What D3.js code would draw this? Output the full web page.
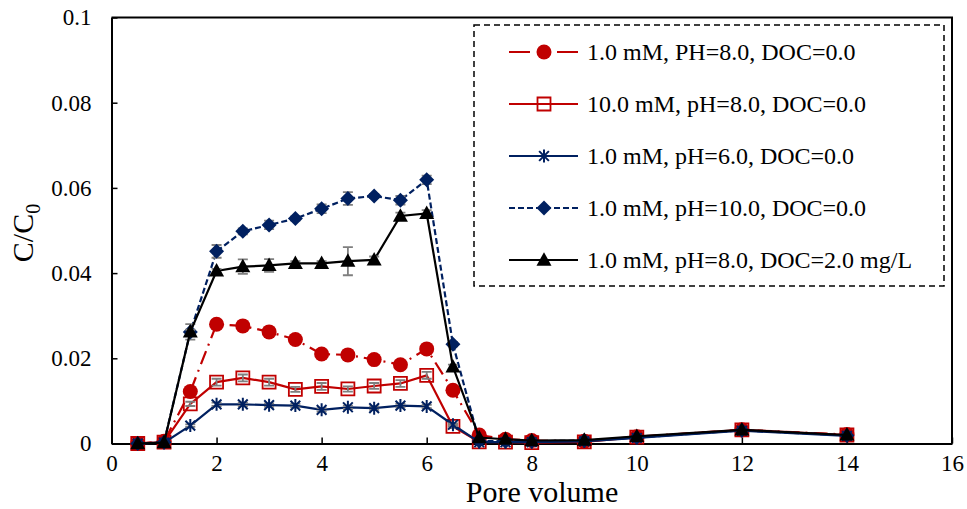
<!DOCTYPE html>
<html>
<head>
<meta charset="utf-8">
<script src="https://cdn.jsdelivr.net/npm/d3@7"></script>
<style>
body { margin: 0; background: #fff; }
</style>
</head>
<body>
<svg id="chart" width="967" height="509"></svg>
<script>
// pore volumes sampled
const poreVol = [0.5, 1, 1.5, 2, 2.5, 3, 3.5, 4, 4.5, 5, 5.5, 6, 6.5, 7, 7.5, 8, 9, 10, 12, 14];

// C/C0 for each run
const ph8 = [0, 0.0005, 0.0122, 0.0280, 0.0276, 0.0262, 0.0244, 0.0210, 0.0208, 0.0197, 0.0185, 0.0222, 0.0125, 0.0020, 0.0010, 0.0007, 0.0005, 0.0016, 0.0032, 0.0021];
const is10 = [0, 0.0003, 0.0093, 0.0144, 0.0154, 0.0144, 0.0127, 0.0134, 0.0128, 0.0135, 0.0141, 0.0160, 0.0040, 0.0004, 0.0003, 0.0002, 0.0004, 0.0015, 0.0032, 0.0020];
const ph6 = [0, 0.0002, 0.0042, 0.0092, 0.0092, 0.0090, 0.0089, 0.0079, 0.0085, 0.0083, 0.0089, 0.0087, 0.0044, 0.0003, 0.0003, 0.0003, 0.0005, 0.0013, 0.0030, 0.0018];
const ph10 = [0, 0.0003, 0.0262, 0.0451, 0.0498, 0.0513, 0.0528, 0.0551, 0.0575, 0.0581, 0.0571, 0.0619, 0.0233, 0.0006, 0.0005, 0.0005, 0.0007, 0.0014, 0.0031, 0.0019];
const doc2 = [0, 0.0002, 0.0262, 0.0405, 0.0415, 0.0418, 0.0423, 0.0423, 0.0428, 0.0431, 0.0534, 0.0540, 0.0180, 0.0014, 0.0010, 0.0007, 0.0008, 0.0017, 0.0032, 0.0020];

// error bars (+/-)
const ph8Err = [0, 0, 0.0005, 0.0005, 0.0005, 0.0005, 0.0005, 0.0005, 0.0005, 0.0005, 0.0005, 0.0005, 0.0005, 0, 0, 0, 0, 0, 0, 0];
const is10Err = [0, 0, 0.0005, 0.0008, 0.0008, 0.0008, 0.0006, 0.0008, 0.0006, 0.0007, 0.0008, 0.0008, 0.0004, 0, 0, 0, 0, 0, 0, 0];
const ph6Err = [0, 0, 0.0003, 0.0004, 0.0004, 0.0004, 0.0004, 0.0004, 0.0004, 0.0004, 0.0004, 0.0004, 0.0003, 0, 0, 0, 0, 0, 0, 0];
const ph10Err = [0, 0, 0.0018, 0.0015, 0.0007, 0.0010, 0.0005, 0.0010, 0.0015, 0.0005, 0.0010, 0.0010, 0.0005, 0, 0, 0, 0, 0, 0, 0];
const doc2Err = [0, 0, 0.0005, 0.0005, 0.0017, 0.0015, 0.0005, 0.0005, 0.0033, 0.0008, 0.0008, 0.0008, 0.0005, 0, 0, 0, 0, 0, 0, 0];

const labels = ["1.0 mM, PH=8.0, DOC=0.0", "10.0 mM, pH=8.0, DOC=0.0", "1.0 mM, pH=6.0, DOC=0.0", "1.0 mM, pH=10.0, DOC=0.0", "1.0 mM, pH=8.0, DOC=2.0 mg/L"];
const xTicks = [0, 2, 4, 6, 8, 10, 12, 14, 16];
const yTicks = [0, 0.02, 0.04, 0.06, 0.08, 0.1];

const red = "#C00000", navy = "#002060";
const serif = "Liberation Serif";

let series = [
  {vals: ph8, err: ph8Err, color: red, dash: "14,6,2,6", legDash: "21,27", mark: "circle"},
  {vals: is10, err: is10Err, color: red, dash: null, mark: "square"},
  {vals: ph6, err: ph6Err, color: navy, dash: null, mark: "star"},
  {vals: ph10, err: ph10Err, color: navy, dash: "6,3", mark: "diamond"},
  {vals: doc2, err: doc2Err, color: "#000", dash: null, mark: "triangle"}
];

const svg = d3.select("#chart").attr("font-family", serif);
const x = d3.scaleLinear().domain([0, 16]).range([111.5, 952]);
const y = d3.scaleLinear().domain([0, 0.1]).range([443.5, 17.5]);

// frame (top/right)
svg.append("path")
  .attr("d", `M${x(0)},${y(0.1)}H${x(16)}V${y(0)}`)
  .attr("fill", "none").attr("stroke", "#000").attr("stroke-width", 2);

let xAxis = svg.append("g").attr("transform", `translate(0,${y(0)})`)
  .call(d3.axisBottom(x).tickValues(xTicks).tickSize(-6).tickPadding(11).tickSizeOuter(0));
let yAxis = svg.append("g").attr("transform", `translate(${x(0)},0)`)
  .call(d3.axisLeft(y).tickValues(yTicks).tickSize(-6).tickPadding(20).tickSizeOuter(0)
    .tickFormat(d => d === 0 ? "0" : String(+d.toFixed(2))));

[xAxis, yAxis].forEach(function (a) {
  a.attr("font-family", serif).attr("font-size", 23);
  a.select(".domain").attr("stroke", "#000").attr("stroke-width", 2);
  a.selectAll(".tick line").attr("stroke", "#000").attr("stroke-width", 1.5);
  a.selectAll("text").attr("fill", "#000");
});
xAxis.selectAll("text").attr("dy", "0.71em");

svg.append("text").attr("x", 542).attr("y", 502).attr("text-anchor", "middle")
  .attr("font-size", 30).text("Pore volume");

let yt = svg.append("text").attr("transform", "translate(33,233) rotate(-90)")
  .attr("text-anchor", "middle").attr("font-size", 30);
yt.append("tspan").text("C/C");
yt.append("tspan").attr("font-size", 20).attr("dy", 7).text("0");

function markerPath(kind, s) {
  let h = s / 2;
  if (kind === "circle") return d3.symbol(d3.symbolCircle, Math.PI * h * h)();
  if (kind === "square") return `M${-h},${-h}H${h}V${h}H${-h}Z`;
  if (kind === "diamond") return `M0,${-h}L${h},0L0,${h}L${-h},0Z`;
  if (kind === "triangle") return `M0,${-h * 1.05}L${h},${h * 0.75}L${-h},${h * 0.75}Z`;
  let d = h * 0.75;
  return `M0,${-h}V${h}M${-d},${-d}L${d},${d}M${-d},${d}L${d},${-d}`;
}

function styleMarker(sel, s) {
  if (s.mark === "square") sel.attr("fill", "none").attr("stroke", s.color).attr("stroke-width", 1.8);
  else if (s.mark === "star") sel.attr("fill", "none").attr("stroke", s.color).attr("stroke-width", 2);
  else sel.attr("fill", s.color).attr("stroke", "none");
}

const line = d3.line().x(d => x(d[0])).y(d => y(d[1]));
const sizes = {circle: 15, square: 13, diamond: 15, triangle: 15, star: 13};

series.forEach(function (s) {
  let pts = poreVol.map((p, i) => [p, s.vals[i], s.err[i]]);
  let g = svg.append("g");

  g.append("path").attr("d", line(pts)).attr("fill", "none")
    .attr("stroke", s.color).attr("stroke-width", 2.2)
    .attr("stroke-dasharray", s.dash);

  // grey error bars
  g.selectAll(".err").data(pts.filter(d => d[2] > 0)).join("path")
    .attr("d", d => `M${x(d[0]) - 5},${y(d[1] + d[2])}H${x(d[0]) + 5}M${x(d[0])},${y(d[1] + d[2])}V${y(d[1] - d[2])}M${x(d[0]) - 5},${y(d[1] - d[2])}H${x(d[0]) + 5}`)
    .attr("stroke", "#7f7f7f").attr("stroke-width", 1.8).attr("fill", "none");

  let m = g.selectAll(".mk").data(pts).join("path")
    .attr("transform", d => `translate(${x(d[0])},${y(d[1])})`)
    .attr("d", markerPath(s.mark, sizes[s.mark]));
  styleMarker(m, s);
});

// legend
let leg = svg.append("g");
leg.append("rect").attr("x", 474).attr("y", 25).attr("width", 470).attr("height", 261)
  .attr("fill", "#fff").attr("stroke", "#000").attr("stroke-width", 1.5)
  .attr("stroke-dasharray", "6,4");

let rows = leg.selectAll(".row").data(series).join("g")
  .attr("transform", (d, i) => `translate(0,${52 + i * 52})`);
rows.append("path").attr("d", "M509,0H578").attr("fill", "none")
  .attr("stroke", d => d.color).attr("stroke-width", 2.2)
  .attr("stroke-dasharray", d => d.legDash || d.dash);
rows.each(function (d) {
  let mk = d3.select(this).append("path").attr("transform", "translate(544,0)")
    .attr("d", markerPath(d.mark, sizes[d.mark]));
  styleMarker(mk, d);
});
rows.append("text").attr("x", 587).attr("y", 8).attr("font-size", 24)
  .text((d, i) => labels[i]);
</script>
</body>
</html>
